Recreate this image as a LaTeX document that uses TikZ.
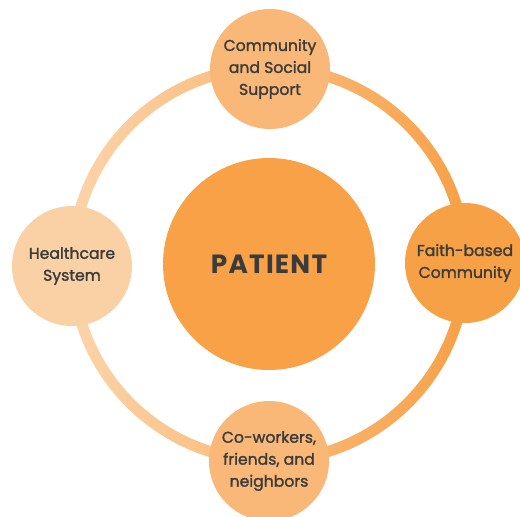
\documentclass[tikz,border=0pt]{standalone}
\usepackage{fontspec}
\setmainfont{Poppins}
\newfontfamily\labelfont{Poppins}[RawFeature={embolden=1.6}]
\definecolor{ringlight}{HTML}{FBD4AA}
\definecolor{ringdark}{HTML}{F7A047}
\definecolor{hubfill}{HTML}{F8A146}
\definecolor{topfill}{HTML}{F9B877}
\definecolor{leftfill}{HTML}{FAD1A5}
\definecolor{rightfill}{HTML}{F7A146}
\definecolor{textgray}{HTML}{3B3B3B}
\begin{document}
\begin{tikzpicture}
\tikzset{
  hub/.style={circle, minimum size=4.24cm, inner sep=0pt, text=textgray,
    font=\fontsize{15}{18}\selectfont\bfseries},
  spoke/.style={circle, minimum size=2.4cm, inner sep=0pt, text=textgray,
    align=center, font=\labelfont\fontsize{8.9}{12.5}\selectfont}
}
\useasboundingbox (-5.38,-5.04) rectangle (5.02,5.28);
% ring behind everything, light on the left, dark on the right
\shade[even odd rule, left color=ringlight, right color=ringdark]
  (0,0) circle (4.04) (0,0) circle (3.82);
\node[hub, fill=hubfill] (patient) at (0,0)
  {P\kern0.7pt A\kern0.7pt T\kern0.7pt I\kern0.7pt E\kern0.7pt N\kern0.7pt T};
\node[spoke, fill=topfill] (support) at (0.02,3.9) {Community\\and Social\\Support};
\node[spoke, fill=leftfill] (health) at (-3.94,-0.04) {Healthcare\\System};
\node[spoke, fill=rightfill] (faith) at (3.92,0.02) {Faith-based\\Community};
\node[spoke, fill=topfill] (neighbors) at (0,-3.94) {Co-workers,\\friends, and\\neighbors};
\end{tikzpicture}
\end{document}
